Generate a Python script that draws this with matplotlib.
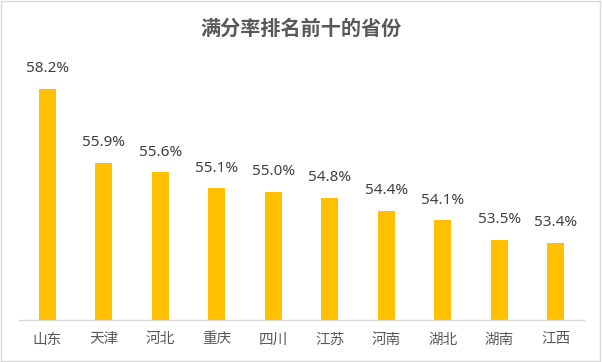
import matplotlib
matplotlib.use('Agg')
import matplotlib.pyplot as plt
from matplotlib.patches import Rectangle

plt.rcParams['font.family'] = ['Noto Sans CJK SC', 'DejaVu Sans']

provinces = ['山东', '天津', '河北', '重庆', '四川', '江苏', '河南', '湖北', '湖南', '江西']
rates = [58.2, 55.9, 55.6, 55.1, 55.0, 54.8, 54.4, 54.1, 53.5, 53.4]

fig = plt.figure(figsize=(6.02, 3.62), dpi=100)
ax = fig.add_axes([19 / 602, 1 - 320 / 362, 565 / 602, 257 / 362])

x = range(len(provinces))
bars = ax.bar(x, rates, width=0.3, color='#FFC000', zorder=2)
ax.set_ylim(51, 59)
ax.set_xlim(-0.5, len(provinces) - 0.5)

for b, v in zip(bars, rates):
    ax.annotate(f'{v:.1f}%', (b.get_x() + b.get_width() / 2, v),
                xytext=(0, 9), textcoords='offset points',
                ha='center', va='bottom', fontsize=11, color='#404040',
                family=['Noto Sans', 'DejaVu Sans'])

ax.set_xticks(list(x))
ax.set_xticklabels(provinces, fontsize=10.5, color='#595959')
ax.tick_params(axis='x', length=0, pad=9)
ax.set_yticks([])
for s in ['top', 'right', 'left']:
    ax.spines[s].set_visible(False)
ax.spines['bottom'].set_color('#D9D9D9')
ax.spines['bottom'].set_linewidth(1)

fig.text(0.5, 1 - 28 / 362, '满分率排名前十的省份', ha='center', va='center',
         fontsize=14.5, fontweight='bold', color='#595959')

fig.patches.append(Rectangle((0.002, 0.003), 0.995, 0.993, transform=fig.transFigure,
                             fill=False, edgecolor='#D9D9D9', linewidth=1))

plt.savefig('out.png', dpi=100)
